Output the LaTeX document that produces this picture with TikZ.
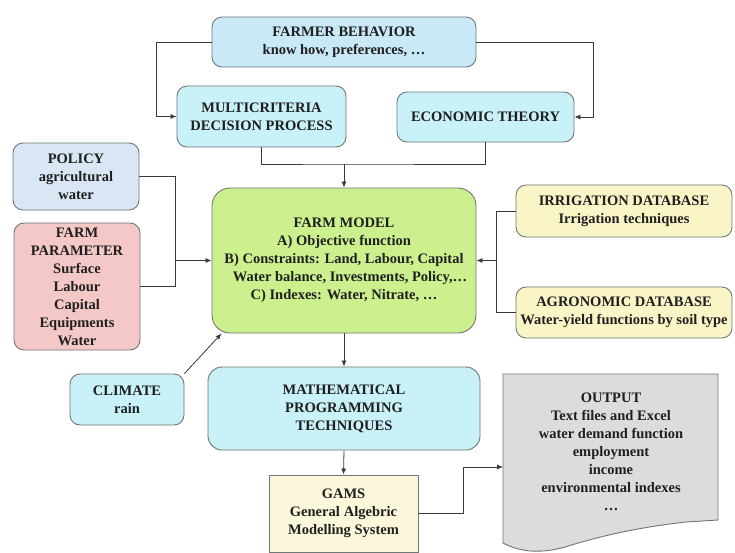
\documentclass[tikz,border=0pt]{standalone}
\usepackage{fontspec}
\setmainfont{Liberation Serif}
\usetikzlibrary{arrows.meta}
\definecolor{bluebox}{HTML}{C9E9F7}
\definecolor{cyanbox}{HTML}{C8F1F8}
\definecolor{policybox}{HTML}{D9E7F5}
\definecolor{pinkbox}{HTML}{F5C8C8}
\definecolor{greenbox}{HTML}{CDF08E}
\definecolor{yellowbox}{HTML}{F9F5C6}
\definecolor{creambox}{HTML}{FBF7DA}
\definecolor{graybox}{HTML}{DCDCDC}
\definecolor{edge}{HTML}{6E7676}
\definecolor{wire}{HTML}{3A3A3A}
\begin{document}
\begin{tikzpicture}[x=1pt,y=-1pt,
  box/.style={draw=edge,line width=0.9pt,rounded corners=10pt,align=center,
    inner sep=0pt,font=\bfseries\fontsize{14.5}{18}\selectfont,text=black!88},
  sqbox/.style={box,rounded corners=0pt},
  arr/.style={draw=wire,line width=0.8pt,-{Latex[length=6pt,width=5pt]}},
  ln/.style={draw=wire,line width=0.8pt}]
\useasboundingbox (0,0) rectangle (735,552);
\fill[white] (0,0) rectangle (735,552);

% boxes
\node[box,fill=bluebox,minimum width=264pt,minimum height=50pt] (fb) at (344,42)
  {FARMER BEHAVIOR\\know how, preferences, \dots};
\node[box,fill=cyanbox,minimum width=169pt,minimum height=61pt] (mc) at (261.5,116.5)
  {MULTICRITERIA\\DECISION PROCESS};
\node[box,fill=cyanbox,minimum width=177pt,minimum height=50pt] (et) at (485.5,117)
  {ECONOMIC THEORY};
\node[box,fill=policybox,minimum width=126pt,minimum height=67pt] (pol) at (76,176.5)
  {POLICY\\agricultural\\water};
\node[box,fill=pinkbox,minimum width=126pt,minimum height=127pt] (fp) at (77,286.5)
  {FARM\\PARAMETER\\Surface\\Labour\\Capital\\Equipments\\Water};
\node[box,fill=greenbox,minimum width=264pt,minimum height=145pt,rounded corners=18pt] (fm) at (344,260.5)
  {FARM MODEL\\A) Objective function\\B) Constraints: Land, Labour, Capital\\
   \hspace*{12pt}Water balance, Investments, Policy,\dots\\C) Indexes: Water, Nitrate, \dots};
\node[box,fill=yellowbox,minimum width=216pt,minimum height=52pt] (irr) at (624,211)
  {IRRIGATION DATABASE\\Irrigation techniques};
\node[box,fill=yellowbox,minimum width=216pt,minimum height=51pt] (agr) at (624,312.5)
  {AGRONOMIC DATABASE\\Water-yield functions by soil type};
\node[box,fill=cyanbox,minimum width=114pt,minimum height=51pt] (cli) at (127,399.5)
  {CLIMATE\\rain};
\node[box,fill=cyanbox,minimum width=272pt,minimum height=83pt,rounded corners=14pt] (mp) at (344,408.5)
  {MATHEMATICAL\\PROGRAMMING\\TECHNIQUES};
\node[sqbox,fill=creambox,minimum width=149pt,minimum height=77pt] (gams) at (343.5,513.5)
  {GAMS\\General\hspace{4pt}Algebric\\Modelling System};

% output document
\draw[draw=edge,line width=0.9pt,fill=graybox] (503,374) -- (718,374) -- (718,520)
  -- (686,522) .. controls (640,527) and (600,536) .. (565,547)
  .. controls (540,554) and (520,552) .. (503,543) -- cycle;
\node[box,draw=none,fill=none] (out) at (611,452)
  {OUTPUT\\Text files and Excel\\water demand function\\employment\\income\\environmental indexes\\\dots};
\coordinate (outw) at (503,467);

% connectors
\draw[arr] (fb.west) -- ++(-55,0) |- (mc.west);
\draw[arr] (fb.east) -- ++(117,0) |- (et.east);
\coordinate (topj) at (344,164);
\draw[ln] (mc.south) |- (topj) -| (et.south);
\draw[arr] (topj) -- (fm.north);

\coordinate (leftj) at (175,260.5);
\draw[ln] (pol.east) -| (leftj);
\draw[ln] (fp.east) -| (leftj);
\draw[arr] (leftj) -- (fm.west);

\coordinate (rightj) at (496,260.5);
\draw[ln] (irr.west) -| (rightj);
\draw[ln] (agr.west) -| (rightj);
\draw[arr] (rightj) -- (fm.east);

\draw[arr] (cli.north east) -- ([xshift=10pt]fm.south west);
\draw[arr] (fm.south) -- (mp.north);
\draw[arr] (mp.south) -- (gams.north);
\draw[arr] (gams.east) -- ++(45,0) |- (outw);
\end{tikzpicture}
\end{document}
